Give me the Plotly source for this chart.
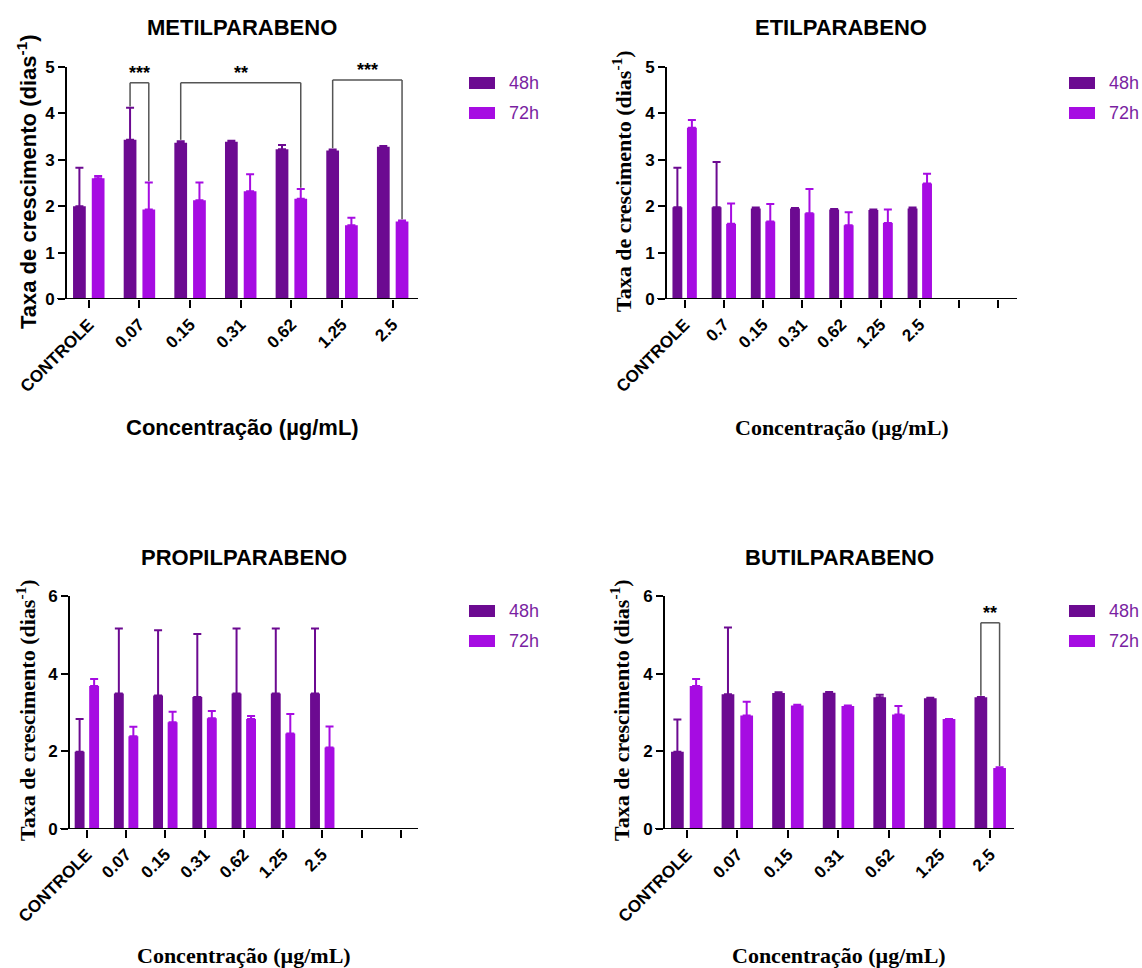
import plotly.graph_objects as go

W, H = 1142, 968

COLOR_48 = "#6c0a91"
COLOR_72 = "#a60ce2"
LEGEND_TEXT = "#7a1fa2"
BRACKET = "#555555"
SANS = "Liberation Sans, Arial, sans-serif"
SERIF = "Liberation Serif, Times New Roman, serif"

BARGAP = 0.26
GROUPGAP = 0.32
HALF = (1 - BARGAP) / 4  # centre offset of each bar inside its group

# ---- data: growth rate (days^-1), mean and SD ----
met_cats = ["CONTROLE", "0.07", "0.15", "0.31", "0.62", "1.25", "2.5"]
met_48 = [2.00, 3.43, 3.37, 3.39, 3.23, 3.20, 3.28]
met_48_sd = [0.83, 0.69, 0.03, 0.02, 0.09, 0.02, 0.02]
met_72 = [2.60, 1.93, 2.13, 2.32, 2.16, 1.59, 1.67]
met_72_sd = [0.05, 0.58, 0.38, 0.37, 0.21, 0.16, 0.02]

eti_cats = ["CONTROLE", "0.7", "0.15", "0.31", "0.62", "1.25", "2.5", "", ""]
eti_48 = [1.98, 1.98, 1.95, 1.95, 1.93, 1.92, 1.95]
eti_48_sd = [0.85, 0.97, 0.02, 0.01, 0.01, 0.01, 0.02]
eti_72 = [3.69, 1.62, 1.67, 1.85, 1.59, 1.64, 2.49]
eti_72_sd = [0.17, 0.44, 0.38, 0.52, 0.28, 0.29, 0.21]

pro_cats = ["CONTROLE", "0.07", "0.15", "0.31", "0.62", "1.25", "2.5", "", ""]
pro_48 = [1.99, 3.49, 3.44, 3.40, 3.49, 3.49, 3.49]
pro_48_sd = [0.84, 1.67, 1.68, 1.62, 1.67, 1.67, 1.67]
pro_72 = [3.68, 2.39, 2.75, 2.85, 2.83, 2.46, 2.10]
pro_72_sd = [0.18, 0.24, 0.27, 0.19, 0.08, 0.50, 0.54]

but_cats = ["CONTROLE", "0.07", "0.15", "0.31", "0.62", "1.25", "2.5"]
but_48 = [1.99, 3.47, 3.50, 3.51, 3.39, 3.37, 3.39]
but_48_sd = [0.83, 1.72, 0.02, 0.02, 0.07, 0.01, 0.01]
but_72 = [3.68, 2.92, 3.18, 3.17, 2.95, 2.83, 1.57]
but_72_sd = [0.18, 0.36, 0.02, 0.01, 0.22, 0.00, 0.02]

series_names = ["48h", "72h"]

# significance brackets: (category of 48h bar, category of 72h bar, bracket height, label)
met_sig = [(1, 1, 4.66, "***"), (2, 4, 4.66, "**"), (5, 6, 4.72, "***")]
but_sig = [(6, 6, 5.31, "**")]


def px_x(p):
    return p / W


def px_y(p):
    return 1 - p / H


panels = [
    dict(key="", title="METILPARABENO", cats=met_cats, m48=met_48, s48=met_48_sd,
         m72=met_72, s72=met_72_sd, sig=met_sig,
         xdom=(67, 418), ydom=(299, 67), xr=[-0.43, 6.5], yr=[0, 5], dtick=1,
         font=SANS, title_c=(242, 27), xt_c=(242, 427), yt_c=(27, 182),
         leg=(469, 83)),
    dict(key="2", title="ETILPARABENO", cats=eti_cats, m48=eti_48, s48=eti_48_sd,
         m72=eti_72, s72=eti_72_sd, sig=[],
         xdom=(667, 1017), ydom=(299, 67), xr=[-0.45, 8.48], yr=[0, 5], dtick=1,
         font=SERIF, title_c=(841, 27), xt_c=(842, 427), yt_c=(622, 181),
         leg=(1069, 83)),
    dict(key="3", title="PROPILPARABENO", cats=pro_cats, m48=pro_48, s48=pro_48_sd,
         m72=pro_72, s72=pro_72_sd, sig=[],
         xdom=(70, 418), ydom=(829, 596), xr=[-0.43, 8.44], yr=[0, 6], dtick=2,
         font=SERIF, title_c=(244, 557), xt_c=(244, 955), yt_c=(26, 710),
         leg=(469, 611)),
    dict(key="4", title="BUTILPARABENO", cats=but_cats, m48=but_48, s48=but_48_sd,
         m72=but_72, s72=but_72_sd, sig=but_sig,
         xdom=(665, 1014), ydom=(829, 596), xr=[-0.43, 6.47], yr=[0, 6], dtick=2,
         font=SERIF, title_c=(839, 557), xt_c=(839, 955), yt_c=(620, 710),
         leg=(1069, 611)),
]

fig = go.Figure()
shapes = []
annotations = []
layout_axes = {}

for p in panels:
    k = p["key"]
    xa, ya = "x" + k, "y" + k
    n_bars = len(p["m48"])
    xs = list(range(n_bars))
    for name, vals, sds, col in [(series_names[0], p["m48"], p["s48"], COLOR_48),
                                 (series_names[1], p["m72"], p["s72"], COLOR_72)]:
        fig.add_trace(go.Bar(
            x=xs, y=vals, name=name, xaxis=xa, yaxis=ya,
            marker=dict(color=col, line=dict(width=0)),
            error_y=dict(type="data", array=sds, arrayminus=[0] * n_bars,
                         symmetric=False, color=col, thickness=2, width=4),
            showlegend=False,
        ))

    n_ticks = len(p["cats"])
    layout_axes["xaxis" + k] = dict(
        domain=[px_x(p["xdom"][0]), px_x(p["xdom"][1])], anchor=ya,
        range=p["xr"], tickmode="array", tickvals=list(range(n_ticks)),
        ticktext=p["cats"], tickangle=-45, ticks="outside", ticklen=8,
        tickwidth=2, tickcolor="black", showline=False, showgrid=False,
        zeroline=False, automargin=False,
        tickfont=dict(family=SANS, size=17, color="black", weight="bold"),
    )
    layout_axes["yaxis" + k] = dict(
        domain=[px_y(p["ydom"][0]), px_y(p["ydom"][1])], anchor=xa,
        range=p["yr"], dtick=p["dtick"], tick0=0, ticks="outside", ticklen=7,
        tickwidth=2, tickcolor="black", showline=True, linewidth=2,
        linecolor="black", showgrid=False, zeroline=False, automargin=False,
        tickfont=dict(family=SANS, size=17, color="black", weight="bold"),
    )

    # baseline, extending slightly left of the y axis
    span = p["xdom"][1] - p["xdom"][0]
    shapes.append(dict(type="line", xref=xa + " domain", yref=ya,
                       x0=-10 / span, x1=1, y0=0, y1=0,
                       line=dict(color="black", width=2)))

    # titles
    annotations.append(dict(text=p["title"], x=px_x(p["title_c"][0]), y=px_y(p["title_c"][1]),
                            xref="paper", yref="paper", showarrow=False,
                            xanchor="center", yanchor="middle",
                            font=dict(family=SANS, size=22, color="black", weight="bold")))
    annotations.append(dict(text="Concentração (µg/mL)", x=px_x(p["xt_c"][0]), y=px_y(p["xt_c"][1]),
                            xref="paper", yref="paper", showarrow=False,
                            xanchor="center", yanchor="middle",
                            font=dict(family=p["font"], size=22, color="black", weight="bold")))
    annotations.append(dict(text="Taxa de crescimento (dias<sup>-1</sup>)",
                            x=px_x(p["yt_c"][0]), y=px_y(p["yt_c"][1]),
                            xref="paper", yref="paper", showarrow=False, textangle=-90,
                            xanchor="center", yanchor="middle",
                            font=dict(family=p["font"], size=22, color="black", weight="bold")))

    # legend swatches
    lx, ly = p["leg"]
    for i, (name, col) in enumerate(zip(series_names, [COLOR_48, COLOR_72])):
        cy = ly + 30 * i
        shapes.append(dict(type="rect", xref="paper", yref="paper",
                           x0=px_x(lx), x1=px_x(lx + 26), y0=px_y(cy + 6), y1=px_y(cy - 6),
                           fillcolor=col, line=dict(width=0)))
        annotations.append(dict(text=name, x=px_x(lx + 38), y=px_y(cy), xref="paper",
                                yref="paper", showarrow=False, xanchor="left",
                                yanchor="middle",
                                font=dict(family=SANS, size=18, color=LEGEND_TEXT)))

    # significance brackets
    for c48, c72, yh, label in p["sig"]:
        xl, xr = c48 - HALF, c72 + HALF
        yl = p["m48"][c48] + p["s48"][c48] + 0.03
        yr = p["m72"][c72] + p["s72"][c72] + 0.03
        for (x0, y0, x1, y1) in [(xl, yl, xl, yh), (xl, yh, xr, yh), (xr, yh, xr, yr)]:
            shapes.append(dict(type="line", xref=xa, yref=ya, x0=x0, y0=y0, x1=x1, y1=y1,
                               line=dict(color=BRACKET, width=1.5)))
        annotations.append(dict(text=label, x=(xl + xr) / 2, y=yh, xref=xa, yref=ya,
                                showarrow=False, xanchor="center", yanchor="bottom",
                                yshift=-2,
                                font=dict(family=SANS, size=18, color="black", weight="bold")))

fig.update_layout(
    width=W, height=H, margin=dict(l=0, r=0, t=0, b=0),
    paper_bgcolor="white", plot_bgcolor="white",
    barmode="group", bargap=BARGAP, bargroupgap=GROUPGAP,
    showlegend=False, shapes=shapes, annotations=annotations,
    **layout_axes,
)

fig.write_html("out.html")
